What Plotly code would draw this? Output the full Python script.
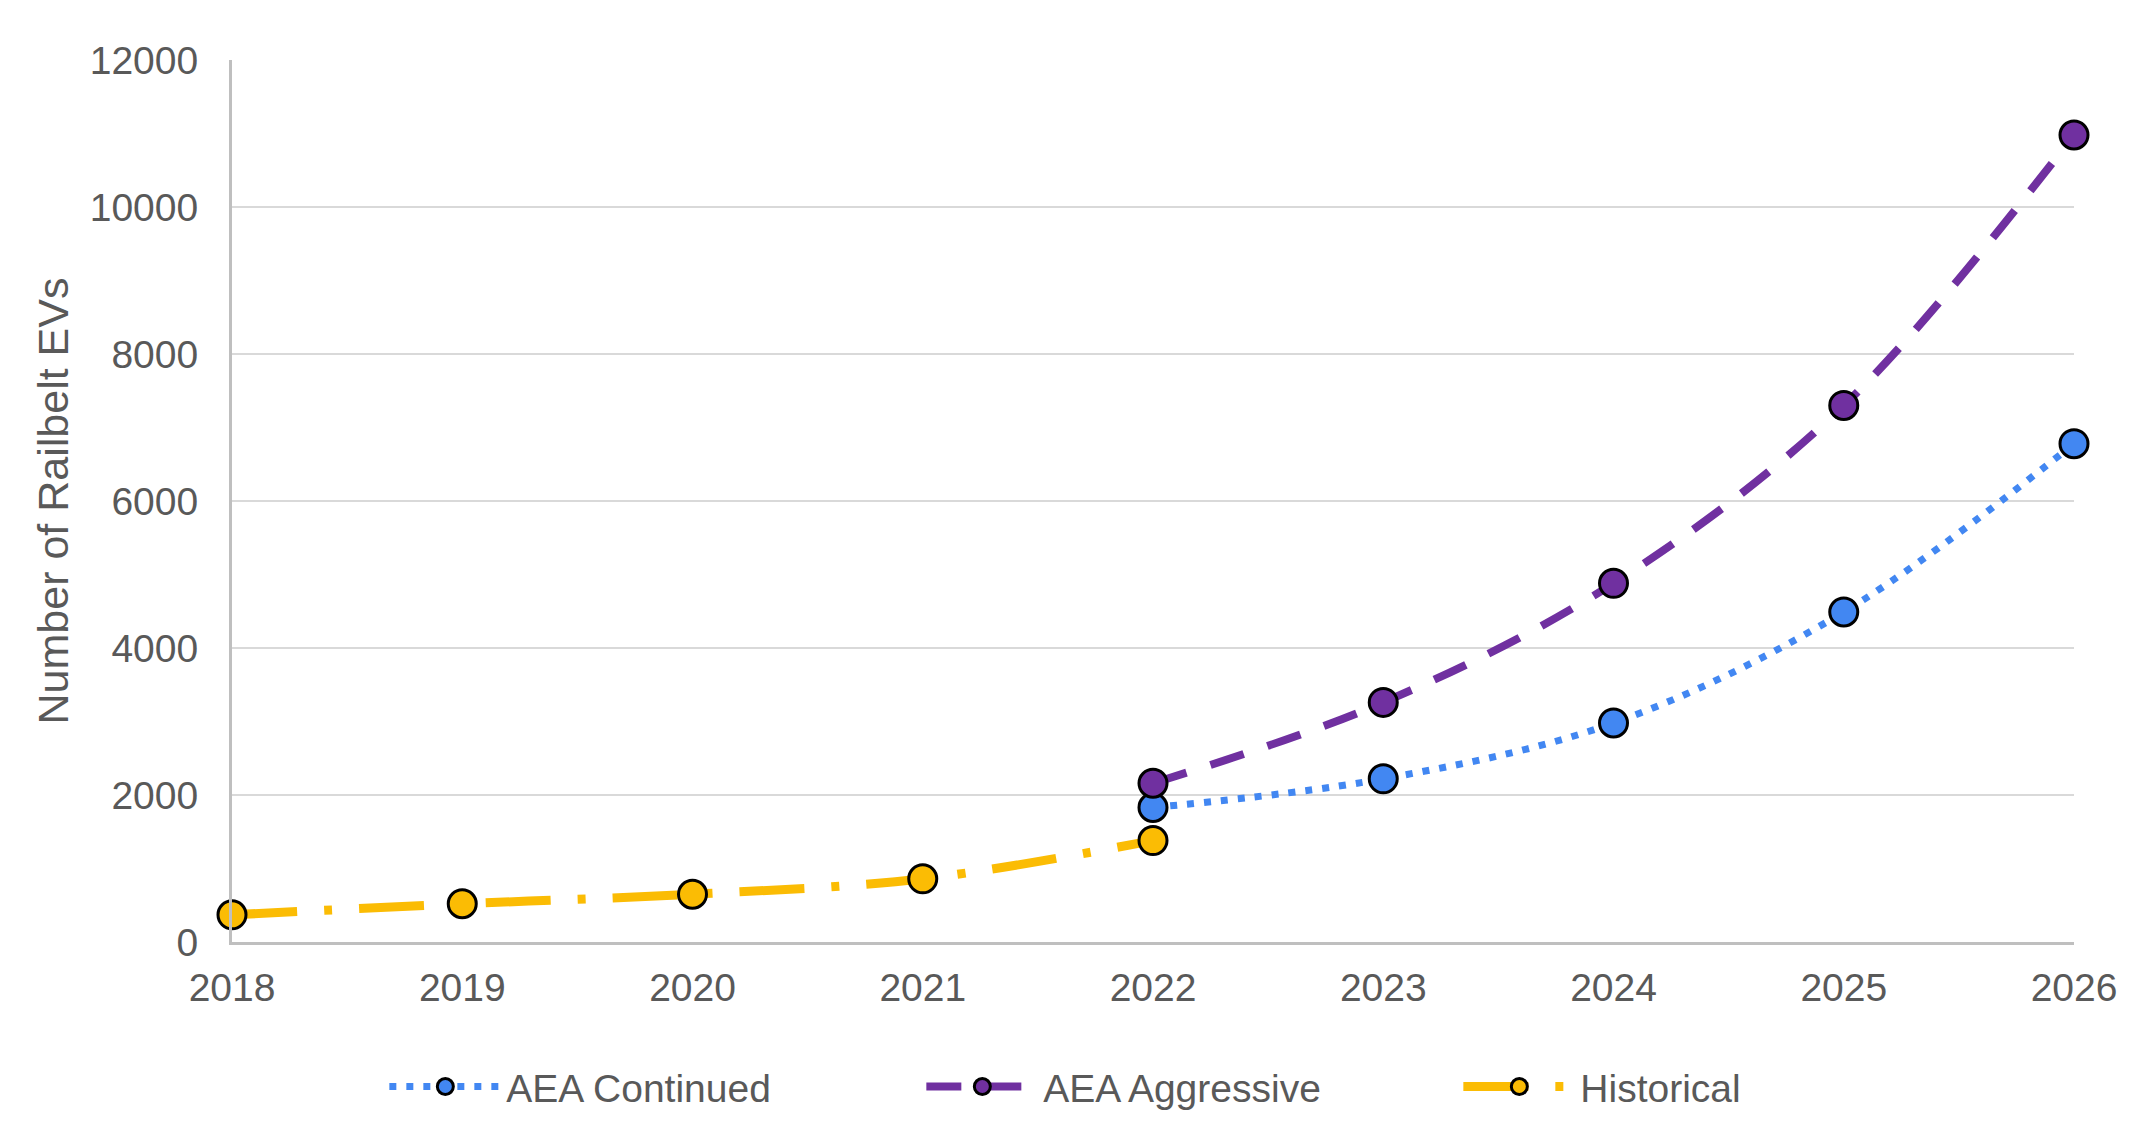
import plotly.graph_objects as go

years_hist = [2018, 2019, 2020, 2021, 2022]
historical = [370, 520, 650, 860, 1380]
years_proj = [2022, 2023, 2024, 2025, 2026]
continued = [1830, 2220, 2980, 4490, 6780]
aggressive = [2160, 3260, 4880, 7300, 10980]
x_ticks = [2018, 2019, 2020, 2021, 2022, 2023, 2024, 2025, 2026]
y_ticks = [0, 2000, 4000, 6000, 8000, 10000, 12000]

BLUE = "#4287F2"
PURPLE = "#7030A0"
YELLOW = "#FBBC04"
TXT = "#595959"
FONT = "Liberation Sans, Arial, sans-serif"

mk = dict(size=28, line=dict(color="black", width=3))

fig = go.Figure()
fig.add_trace(go.Scatter(
    x=years_hist, y=historical, name="Historical", mode="lines+markers",
    line=dict(color=YELLOW, width=9, dash="65px,27px,8px,27px", shape="spline"),
    marker=dict(color=YELLOW, **mk), legendrank=3, cliponaxis=False))
fig.add_trace(go.Scatter(
    x=years_proj, y=continued, name="AEA Continued", mode="lines+markers",
    line=dict(color=BLUE, width=7, dash="7px,10px", shape="spline"),
    marker=dict(color=BLUE, **mk), legendrank=1, cliponaxis=False))
fig.add_trace(go.Scatter(
    x=years_proj, y=aggressive, name="AEA Aggressive", mode="lines+markers",
    line=dict(color=PURPLE, width=8, dash="35px,25px", shape="spline"),
    marker=dict(color=PURPLE, **mk), legendrank=2, cliponaxis=False))

# page body adds an 8px margin, so the figure is sized/offset to compensate
fig.update_layout(
    width=2143, height=1118,
    margin=dict(l=224, r=77, t=52, b=184, autoexpand=False),
    plot_bgcolor="white", paper_bgcolor="white",
    font=dict(family=FONT, color=TXT, size=39),
    showlegend=True,
    legend=dict(orientation="h", x=0.52, xanchor="center", y=-0.164, yanchor="middle",
                font=dict(size=39, color=TXT), itemwidth=112, entrywidth=410,
                traceorder="normal"),
)
fig.update_xaxes(range=[2018, 2026], tickvals=x_ticks, ticktext=[str(v) for v in x_ticks],
                 showgrid=False, showline=True, linecolor="#BFBFBF", linewidth=3,
                 ticks="", ticklabelstandoff=9, tickfont=dict(size=39, color=TXT),
                 zeroline=False, automargin=False)
fig.update_yaxes(range=[0, 12000], tickvals=y_ticks, ticktext=[str(v) for v in y_ticks],
                 showgrid=True, gridcolor="#D9D9D9", gridwidth=2,
                 showline=True, linecolor="#BFBFBF", linewidth=3, zeroline=False,
                 ticks="", ticklabelstandoff=23, tickfont=dict(size=39, color=TXT),
                 automargin=False,
                 title=dict(text="Number of Railbelt EVs", font=dict(size=43, color=TXT), standoff=8))

fig.write_html("out.html")
